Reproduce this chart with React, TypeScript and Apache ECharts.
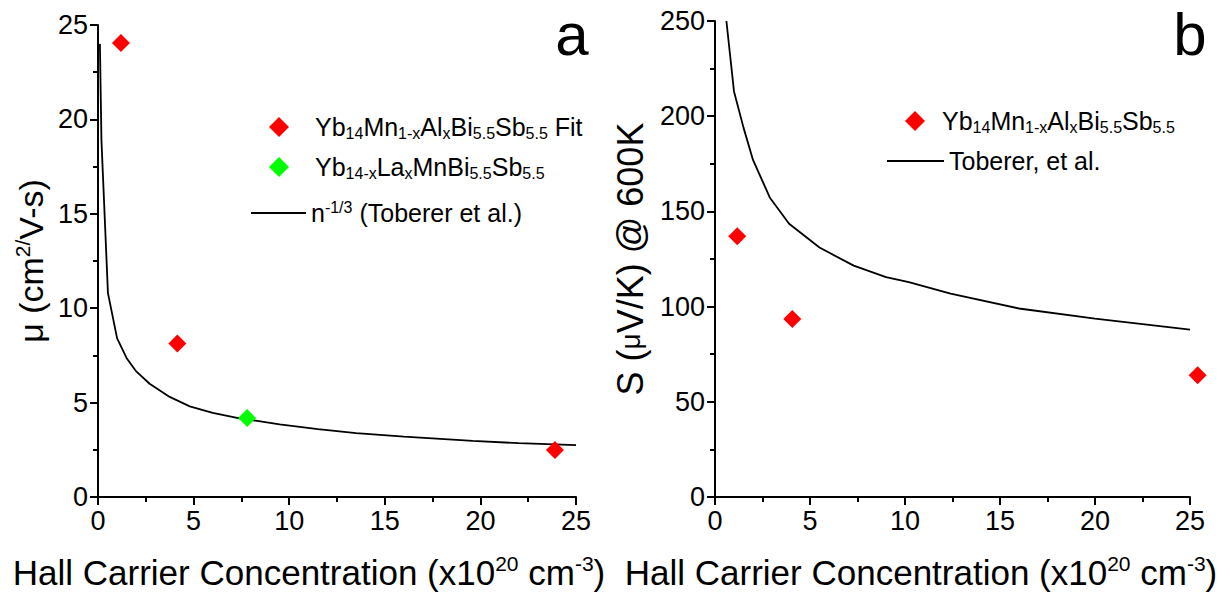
import React, { useEffect, useRef } from "react";
import * as echarts from "echarts";

// ---- data ----
const xTickValues = [0, 5, 10, 15, 20, 25];

// panel a: mobility (cm^2/V-s) vs Hall carrier concentration (x10^20 cm^-3)
const muAlFit: number[][] = [
  [1.2, 24.05],
  [4.15, 8.13],
  [23.9, 2.49],
];
const muLa: number[][] = [[7.8, 4.18]];
const muToberer: number[][] = [
  [0.1, 24.0],
  [0.18, 18.9],
  [0.52, 10.8],
  [1.0, 8.4],
  [1.5, 7.35],
  [2.0, 6.65],
  [2.7, 6.0],
  [3.75, 5.3],
  [4.8, 4.8],
  [6.0, 4.45],
  [7.4, 4.17],
  [9.5, 3.85],
  [11.5, 3.6],
  [13.5, 3.38],
  [16.0, 3.2],
  [19.6, 2.97],
  [22.0, 2.85],
  [25.0, 2.75],
];

// panel b: Seebeck (uV/K) at 600 K vs Hall carrier concentration
const seebeckAl: number[][] = [
  [1.17, 137],
  [4.07, 93.5],
  [25.4, 64],
];
const seebeckToberer: number[][] = [
  [0.6, 250],
  [1.0, 213],
  [1.5, 194],
  [2.0, 177],
  [2.9, 157],
  [3.9, 143.5],
  [5.5, 131],
  [7.3, 121.5],
  [9.0, 115.5],
  [10.2, 112.8],
  [12.4, 106.8],
  [16.0, 99],
  [20.0, 93.7],
  [25.0, 87.9],
];

const NAME_AL_FIT = "Yb14Mn1-xAlxBi5.5Sb5.5 Fit";
const NAME_LA = "Yb14-xLaxMnBi5.5Sb5.5";
const NAME_TOB_A = "n^-1/3 (Toberer et al.)";
const NAME_AL = "Yb14Mn1-xAlxBi5.5Sb5.5";
const NAME_TOB_B = "Toberer, et al.";

const legendText: Record<string, string> = {
  [NAME_AL_FIT]: "Yb{s|14}Mn{s|1-x}Al{s|x}Bi{s|5.5}Sb{s|5.5} Fit",
  [NAME_LA]: "Yb{s|14-x}La{s|x}MnBi{s|5.5}Sb{s|5.5}",
  [NAME_TOB_A]: "n{p|-1/3} (Toberer et al.)",
  [NAME_AL]: "Yb{s|14}Mn{s|1-x}Al{s|x}Bi{s|5.5}Sb{s|5.5}",
  [NAME_TOB_B]: "Toberer, et al.",
};

const X_TITLE = "Hall Carrier Concentration (x10{p|20} cm{p|-3})";

const FONT = "'Liberation Sans', Arial, Helvetica, sans-serif";
const RED = "#ff0000";
const GREEN = "#00ff00";
const TICK_FONT = 27;

function makeXAxis(gridIndex: number) {
  return {
    type: "value",
    gridIndex,
    min: xTickValues[0],
    max: xTickValues[xTickValues.length - 1],
    interval: 5,
    axisLine: { show: true, onZero: false, lineStyle: { color: "#000", width: 2 } },
    axisTick: { show: true, inside: false, length: 8, lineStyle: { color: "#000", width: 2 } },
    minorTick: { show: true, splitNumber: 2, length: 5, lineStyle: { color: "#000", width: 2 } },
    splitLine: { show: false },
    minorSplitLine: { show: false },
    axisLabel: { fontFamily: FONT, fontSize: TICK_FONT, color: "#000", margin: 10 },
  };
}

function makeYAxis(
  gridIndex: number,
  max: number,
  interval: number,
  name: string,
  nameGap: number,
  fontSize: number,
  rich: any
) {
  return {
    type: "value",
    gridIndex,
    min: 0,
    max,
    interval,
    name,
    nameLocation: "middle",
    nameRotate: 90,
    nameGap,
    nameTextStyle: {
      fontFamily: FONT,
      fontSize,
      lineHeight: fontSize + 4,
      color: "#000",
      rich,
    },
    axisLine: { show: true, onZero: false, lineStyle: { color: "#000", width: 2 } },
    axisTick: { show: true, inside: false, length: 8, lineStyle: { color: "#000", width: 2 } },
    minorTick: { show: true, splitNumber: 2, length: 5, lineStyle: { color: "#000", width: 2 } },
    splitLine: { show: false },
    minorSplitLine: { show: false },
    axisLabel: { fontFamily: FONT, fontSize: TICK_FONT, color: "#000", margin: 10 },
  };
}

function makeLegend(
  name: string,
  left: number,
  top: number,
  itemWidth: number,
  itemHeight: number,
  textPad: number
) {
  return {
    data: [name],
    left,
    top,
    orient: "vertical",
    padding: 0,
    itemWidth,
    itemHeight,
    selectedMode: false,
    formatter: (n: string) => legendText[n] ?? n,
    textStyle: {
      fontFamily: FONT,
      fontSize: 25,
      lineHeight: 28,
      color: "#000",
      padding: [0, 0, 0, textPad],
      rich: {
        s: { fontFamily: FONT, fontSize: 16, lineHeight: 6, verticalAlign: "bottom", color: "#000" },
        p: { fontFamily: FONT, fontSize: 16, lineHeight: 3, verticalAlign: "top", color: "#000" },
      },
    },
  };
}

function titleText(x: number) {
  return {
    type: "text",
    x,
    y: 572,
    style: {
      text: X_TITLE,
      fontFamily: FONT,
      fontSize: 35,
      lineHeight: 38,
      fill: "#000",
      textAlign: "center",
      textVerticalAlign: "middle",
      rich: {
        p: { fontFamily: FONT, fontSize: 21, lineHeight: 12, verticalAlign: "top", fill: "#000" },
      },
    },
  };
}

function panelLetter(text: string, x: number) {
  return {
    type: "text",
    x,
    y: 34,
    style: {
      text,
      fontFamily: FONT,
      fontSize: 60,
      fill: "#000",
      textAlign: "center",
      textVerticalAlign: "middle",
    },
  };
}

export default function App() {
  const ref = useRef<HTMLDivElement>(null);

  useEffect(() => {
    if (!ref.current) return;
    const chart = echarts.init(ref.current, undefined, { renderer: "svg" });
    const option: any = {
      animation: false,
      backgroundColor: "#ffffff",
      textStyle: { fontFamily: FONT },
      grid: [
        { left: 98, top: 25, width: 478, height: 472 },
        { left: 715, top: 21, width: 475, height: 476 },
      ],
      xAxis: [makeXAxis(0), makeXAxis(1)],
      yAxis: [
        makeYAxis(0, 25, 5, "μ (cm{p|2/}V-s)", 48, 34, {
          p: { fontFamily: FONT, fontSize: 21, lineHeight: 10, verticalAlign: "top", color: "#000" },
        }),
        makeYAxis(1, 250, 50, "S ({m|μ}V/K) @ 600K", 65, 36, {
          m: { fontFamily: FONT, fontSize: 28, lineHeight: 40, color: "#000" },
        }),
      ],
      legend: [
        makeLegend(NAME_AL_FIT, 269, 113, 20, 20, 21),
        makeLegend(NAME_LA, 269, 153, 20, 20, 21),
        makeLegend(NAME_TOB_A, 250, 199, 55, 2, 0),
        makeLegend(NAME_AL, 905, 107, 20, 20, 12),
        makeLegend(NAME_TOB_B, 886, 147, 57, 2, 0),
      ],
      series: [
        {
          name: NAME_TOB_A,
          type: "line",
          xAxisIndex: 0,
          yAxisIndex: 0,
          data: muToberer,
          symbol: "none",
          lineStyle: { color: "#000", width: 1.8 },
          itemStyle: { color: "#000" },
          z: 2,
        },
        {
          name: NAME_AL_FIT,
          type: "scatter",
          xAxisIndex: 0,
          yAxisIndex: 0,
          data: muAlFit,
          symbol: "diamond",
          symbolSize: 18,
          itemStyle: { color: RED, opacity: 1 },
          z: 3,
        },
        {
          name: NAME_LA,
          type: "scatter",
          xAxisIndex: 0,
          yAxisIndex: 0,
          data: muLa,
          symbol: "diamond",
          symbolSize: 18,
          itemStyle: { color: GREEN, opacity: 1 },
          z: 3,
        },
        {
          name: NAME_TOB_B,
          type: "line",
          xAxisIndex: 1,
          yAxisIndex: 1,
          data: seebeckToberer,
          symbol: "none",
          lineStyle: { color: "#000", width: 1.8 },
          itemStyle: { color: "#000" },
          z: 2,
        },
        {
          name: NAME_AL,
          type: "scatter",
          xAxisIndex: 1,
          yAxisIndex: 1,
          data: seebeckAl,
          symbol: "diamond",
          symbolSize: 18,
          clip: false,
          itemStyle: { color: RED, opacity: 1 },
          z: 3,
        },
      ],
      graphic: [titleText(309), titleText(921), panelLetter("a", 572), panelLetter("b", 1190)],
    };
    chart.setOption(option);
    return () => chart.dispose();
  }, []);

  return (
    <div
      ref={ref}
      style={{ position: "fixed", left: 0, top: 0, width: 1231, height: 594, background: "#fff" }}
    />
  );
}
